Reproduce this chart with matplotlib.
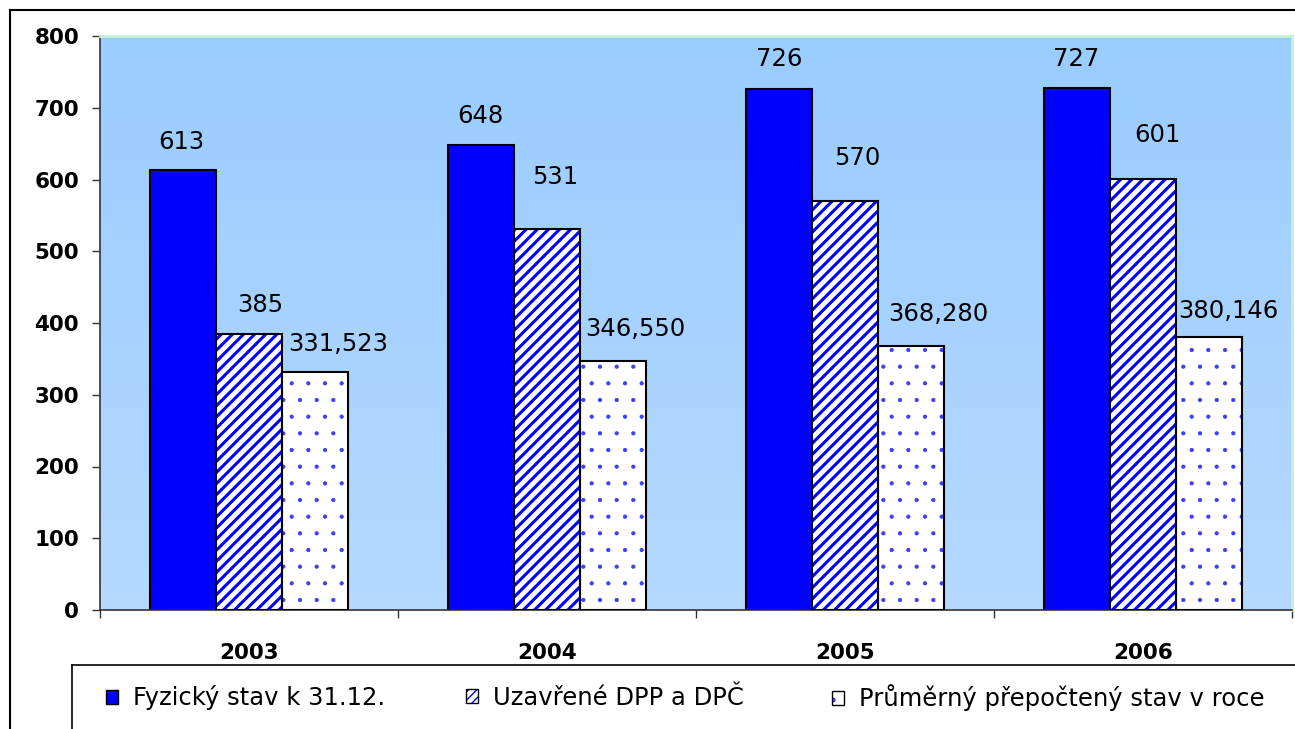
import matplotlib
matplotlib.use("Agg")
import matplotlib.pyplot as plt
import numpy as np
from matplotlib.patches import Patch
from matplotlib.lines import Line2D
from matplotlib.colors import LinearSegmentedColormap

# ---- data ----
years = ["2003", "2004", "2005", "2006"]
series_names = ["Fyzický stav k 31.12.", "Uzavřené DPP a DPČ", "Průměrný přepočtený stav v roce"]
fyzicky = [613, 648, 726, 727]
uzavrene = [385, 531, 570, 601]
prumerny = [331.523, 346.550, 368.280, 380.146]
label_fyzicky = ["613", "648", "726", "727"]
label_uzavrene = ["385", "531", "570", "601"]
label_prumerny = ["331,523", "346,550", "368,280", "380,146"]
yticks = [0, 100, 200, 300, 400, 500, 600, 700, 800]

# label offsets in pixels (layout only)
offs = [
    [(-2, 28), (-1, 29), (0, 30), (-1, 29)],
    [(11, 29), (8, 52), (12, 43), (14, 44)],
    [(23, 28), (22, 32), (27, 32), (19, 26)],
]

W, H = 1295, 729
FONT = "DejaVu Sans"
plt.rcParams["font.family"] = [FONT]
fig = plt.figure(figsize=(W / 100, H / 100), dpi=100)

L, R, T, B = 100, 1292, 36, 610
ax = fig.add_axes([L / W, 1 - B / H, (R - L) / W, (B - T) / H])

# gradient background (top darker, bottom lighter)
cmap = LinearSegmentedColormap.from_list("bg", ["#99CCFF", "#B5D9FF"])
grad = np.linspace(0, 1, 256).reshape(-1, 1)
ax.imshow(grad, cmap=cmap, aspect="auto", extent=(0, 4, 0, 800), origin="upper", zorder=0)

x = np.arange(len(years)) + 0.5
bw = 66 / 298

ax.bar(x - bw, fyzicky, bw, color="#0000FF", edgecolor="black", linewidth=1.5, zorder=2)

with plt.rc_context({"hatch.linewidth": 2.2}):
    ax.bar(x, uzavrene, bw, color="white", edgecolor="#0000FF", hatch="///", linewidth=0, zorder=2)
ax.bar(x, uzavrene, bw, color="none", edgecolor="black", linewidth=1.5, zorder=3)

with plt.rc_context({"hatch.linewidth": 0.6}):
    ax.bar(x + bw, prumerny, bw, color="white", edgecolor="#3C3CFF", hatch=".", linewidth=0, zorder=2)
ax.bar(x + bw, prumerny, bw, color="none", edgecolor="black", linewidth=1.5, zorder=3)

ax.set_xlim(0, 4)
ax.set_ylim(0, 800)

# data labels
for si, (vals, labs, dx) in enumerate([(fyzicky, label_fyzicky, -bw), (uzavrene, label_uzavrene, 0), (prumerny, label_prumerny, bw)]):
    for i, (v, lab) in enumerate(zip(vals, labs)):
        ox, oy = offs[si][i]
        ax.annotate(lab, (x[i] + dx, v), xytext=(ox, oy), textcoords="offset pixels",
                    ha="center", va="center", fontsize=17.5, zorder=5, annotation_clip=False)

# axes styling
ax.set_yticks(yticks)
ax.set_yticklabels([str(t) for t in yticks], fontsize=15.5, fontweight="bold")
ax.set_xticks([0, 1, 2, 3, 4])
ax.set_xticklabels([])
ax.set_xticks(x, minor=True)
ax.set_xticklabels(years, minor=True, fontsize=15.5, fontweight="bold")
ax.tick_params(axis="x", which="minor", length=0, pad=24)
ax.tick_params(axis="x", which="major", length=6, width=1, color="#333333", direction="out")
ax.tick_params(axis="y", length=6, width=1, color="#333333", direction="out", pad=9)
for s in ["left", "bottom"]:
    ax.spines[s].set_color("#333333")
    ax.spines[s].set_linewidth(1.2)
for s in ["top", "right"]:
    ax.spines[s].set_color("#C6F2D4")
    ax.spines[s].set_linewidth(2)

# outer frame and legend box (in figure coords)
ftrans = fig.transFigure
fig.add_artist(Line2D([10 / W, 1.0], [1 - 10 / H, 1 - 10 / H], transform=ftrans, color="black", lw=1.5))
fig.add_artist(Line2D([10 / W, 10 / W], [1 - 10 / H, 0], transform=ftrans, color="black", lw=1.5))
fig.add_artist(Line2D([72 / W, 1.0], [1 - 665 / H, 1 - 665 / H], transform=ftrans, color="black", lw=1.2))
fig.add_artist(Line2D([72 / W, 72 / W], [1 - 665 / H, 0], transform=ftrans, color="black", lw=1.2))

# legends
h1 = Patch(facecolor="#0000FF", edgecolor="black", linewidth=1)
with plt.rc_context({"hatch.linewidth": 1.5}):
    h2a = Patch(facecolor="white", edgecolor="#0000FF", hatch="////", linewidth=0)
h2b = Patch(facecolor="none", edgecolor="black", linewidth=1)
with plt.rc_context({"hatch.linewidth": 0.6}):
    h3a = Patch(facecolor="white", edgecolor="#3C3CFF", hatch=".", linewidth=0)
h3b = Patch(facecolor="none", edgecolor="black", linewidth=1)
handles = [h1, (h2a, h2b), (h3a, h3b)]
leg_x = [106, 466, 832]
for hx, hd, name in zip(leg_x, handles, series_names):
    fig.legend([hd], [name], loc="center left", bbox_to_anchor=(hx / W, 1 - 698 / H),
               frameon=False, handlelength=0.5, handleheight=0.5,
               handletextpad=0.6, borderpad=0, borderaxespad=0,
               prop={"family": FONT, "size": 17.5})

fig.savefig("out.png", dpi=100)
